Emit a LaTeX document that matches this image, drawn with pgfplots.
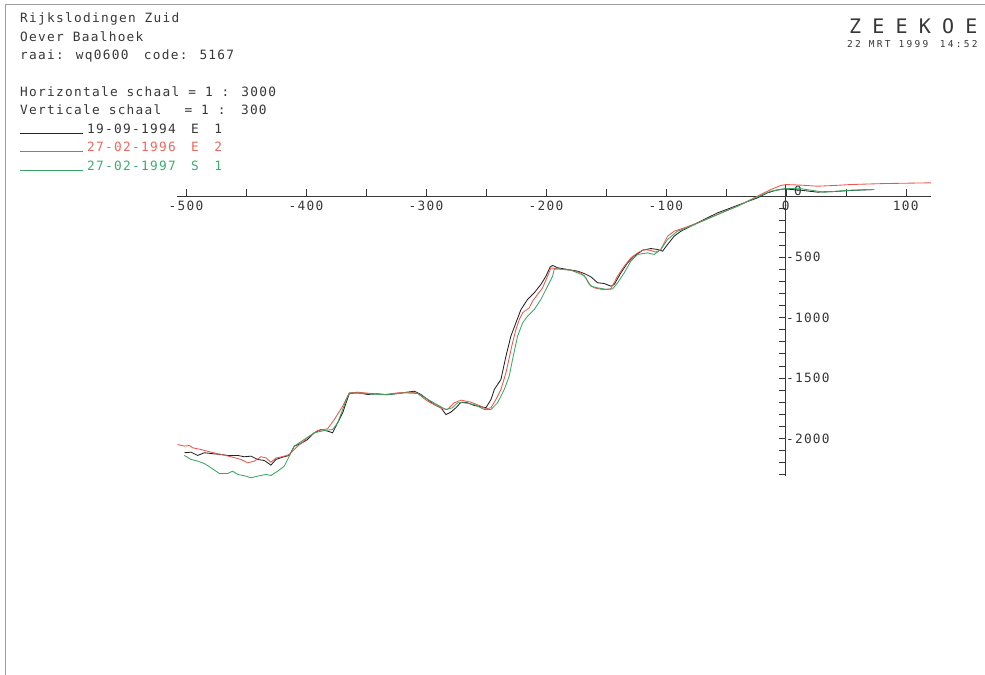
\documentclass[border=0pt]{standalone}
\usepackage{fontspec}
\usepackage{pgfplots}
\pgfplotsset{compat=1.18}
\setmainfont{DejaVu Sans Mono}[LetterSpace=10]
\newfontfamily\bigfont{DejaVu Sans Mono}[LetterSpace=56]
\newfontfamily\smallfont{DejaVu Sans Mono}[LetterSpace=24]
\definecolor{inkgray}{RGB}{55,55,55}
\definecolor{plotblack}{RGB}{35,35,35}
\definecolor{plotred}{RGB}{232,88,74}
\definecolor{plotgreen}{RGB}{58,165,100}
\definecolor{textred}{RGB}{236,104,92}
\definecolor{textgreen}{RGB}{62,172,112}
\newcommand{\gap}{\phantom{0}}
\begin{document}
\begin{tikzpicture}
\fontsize{12.8bp}{14bp}\selectfont
\path[use as bounding box] (0,0) rectangle (985bp,-675bp);
% sheet frame
\draw[gray!75, line width=0.9bp] (5bp,-675bp) -- (5bp,-4bp) -- (985bp,-4bp);

% header block
\begin{scope}[every node/.style={anchor=base west, inner sep=0pt, text=inkgray}]
\node at (20bp,-22.5bp) {Rijkslodingen Zuid};
\node at (20bp,-41bp) {Oever Baalhoek};
\node at (20bp,-59.5bp) {raai: wq0600\gap\gap code: 5167};
\node at (20bp,-96bp) {Horizontale schaal = 1 : 3000};
\node at (20bp,-114.5bp) {Verticale schaal\gap\gap\gap = 1 :\gap\gap 300};
\node at (87bp,-133bp) {19-09-1994\gap\gap E\gap\gap 1};
\node[text=textred] at (87bp,-151.5bp) {27-02-1996\gap\gap E\gap\gap 2};
\node[text=textgreen] at (87bp,-170bp) {27-02-1997\gap\gap S\gap\gap 1};
\end{scope}
\draw[plotblack, line width=0.8bp] (20bp,-133bp) -- (83bp,-133bp);
\draw[plotred, line width=0.8bp] (20bp,-151.5bp) -- (83bp,-151.5bp);
\draw[plotgreen, line width=0.8bp] (20bp,-170bp) -- (83bp,-170bp);

\node[anchor=base west, inner sep=0pt, text=inkgray] at (849bp,-33bp)
  {\fontsize{20bp}{22bp}\bigfont ZEEKOE};
\node[anchor=base west, inner sep=0pt, text=inkgray] at (847bp,-47bp)
  {\fontsize{9.5bp}{11bp}\smallfont 22 MRT 1999\gap\gap 14:52};

\begin{axis}[
  at={(177bp,-476bp)}, anchor=south west,
  scale only axis, width=754bp, height=291bp,
  xmin=-507.5, xmax=121, ymin=-2310, ymax=95,
  axis x line=middle, axis y line=middle,
  axis line style={-, line width=0.7bp, inkgray},
  hide obscured x ticks=false, hide obscured y ticks=false,
  xtick={-500,-400,...,100}, minor xtick={-450,-350,...,50},
  xticklabels={-500,-400,-300,-200,-100,0,100},
  ytick={-2000,-1500,-1000,-500},
  minor ytick={-2300,-2200,...,-100},
  yticklabels={-2000,-1500,-1000,-500},
  extra y ticks={0}, extra y tick labels={0},
  extra y tick style={yticklabel style={yshift=6bp, xshift=8bp}},
  xtick align=inside, ytick align=outside,
  major tick length=7bp, minor tick length=7bp,
  tick style={inkgray, line width=0.6bp},
  xticklabel style={anchor=north, inner sep=0pt, yshift=-4bp, text=inkgray},
  yticklabel style={anchor=west, inner sep=0pt, xshift=7bp, text=inkgray},
  yticklabel pos=right,
  clip=false,
]
% 19-09-1994
\addplot[plotblack, line width=0.85bp] coordinates {
(-501.4,-2118) (-495.8,-2113) (-490.3,-2140) (-484.7,-2118) (-476.4,-2127)
(-470.8,-2132) (-465.3,-2140) (-456.9,-2140) (-451.4,-2151) (-445.8,-2146)
(-440.3,-2173) (-434.7,-2182) (-429.2,-2220) (-425.0,-2173) (-419.4,-2154)
(-413.9,-2140) (-409.7,-2063) (-404.2,-2041) (-398.6,-2008) (-393.1,-1953)
(-387.5,-1926) (-381.9,-1939) (-377.8,-1953) (-373.6,-1870) (-369.4,-1788)
(-363.9,-1628) (-356.9,-1622) (-348.6,-1636) (-340.3,-1631) (-331.9,-1639)
(-323.6,-1628) (-315.3,-1617) (-309.7,-1609) (-304.2,-1636) (-298.6,-1678)
(-293.1,-1719) (-287.5,-1746) (-283.3,-1802) (-279.2,-1782) (-275.0,-1746)
(-270.8,-1700) (-265.3,-1705) (-259.7,-1727) (-254.2,-1738) (-250.0,-1746)
(-245.8,-1678) (-243.0,-1595) (-237.5,-1512) (-233.3,-1320) (-229.2,-1154)
(-225.0,-1044) (-220.8,-934) (-215.3,-851) (-209.7,-796) (-204.2,-727)
(-200.0,-659) (-196.4,-581) (-194.4,-570) (-190.3,-589) (-181.9,-603)
(-173.6,-617) (-168.1,-636) (-162.5,-664) (-156.9,-713) (-151.4,-719)
(-145.8,-741) (-143.1,-727) (-137.5,-631) (-131.9,-548) (-126.4,-493)
(-119.4,-444) (-112.5,-430) (-106.9,-438) (-102.8,-452) (-98.6,-397)
(-93.1,-328) (-87.5,-287) (-79.2,-245) (-68.1,-190) (-56.9,-135)
(-45.8,-94) (-34.7,-52) (-23.6,-11) (-15.3,30) (-8.3,52) (-1.4,63)
(12.5,52) (26.4,36) (40.3,41) (54.2,50) (73.6,58)
};
% 27-02-1996
\addplot[plotred, line width=0.85bp] coordinates {
(-506.9,-2050) (-501.4,-2063) (-497.2,-2058) (-494.4,-2077) (-487.5,-2091)
(-479.2,-2113) (-470.8,-2132) (-462.5,-2151) (-454.2,-2173) (-448.6,-2201)
(-443.1,-2187) (-437.5,-2151) (-433.3,-2160) (-429.2,-2196) (-425.0,-2162)
(-418.1,-2146) (-413.9,-2132) (-406.9,-2063) (-398.6,-1995) (-390.3,-1934)
(-382.0,-1920) (-376.4,-1843) (-369.4,-1733) (-363.9,-1623) (-356.9,-1617)
(-345.8,-1628) (-334.7,-1636) (-323.6,-1623) (-312.5,-1617) (-306.9,-1628)
(-298.6,-1692) (-290.3,-1733) (-286.1,-1755) (-281.9,-1760) (-276.4,-1705)
(-270.8,-1683) (-262.5,-1700) (-254.2,-1733) (-250.0,-1755) (-245.8,-1746)
(-241.7,-1678) (-237.5,-1595) (-233.3,-1457) (-230.6,-1333) (-227.8,-1209)
(-225.0,-1099) (-222.2,-1017) (-219.4,-961) (-213.9,-920) (-211.1,-865)
(-207.0,-810) (-202.8,-755) (-198.6,-658) (-195.8,-590) (-190.3,-598)
(-179.2,-609) (-170.8,-631) (-166.7,-672) (-163.9,-727) (-159.7,-755)
(-152.8,-769) (-145.8,-763) (-140.3,-658) (-134.7,-576) (-129.2,-507)
(-123.6,-466) (-118.1,-438) (-112.5,-446) (-108.3,-460) (-104.2,-438)
(-98.6,-328) (-93.1,-287) (-84.7,-259) (-73.6,-218) (-56.9,-149)
(-40.3,-80) (-23.6,3) (-12.5,58) (-4.2,91) (0,99) (12.5,94) (26.4,85)
(40.3,91) (54.2,99) (81.9,107) (120.8,113)
};
% 27-02-1997
\addplot[plotgreen, line width=0.85bp] coordinates {
(-501.4,-2140) (-495.8,-2173) (-490.3,-2187) (-484.7,-2207) (-479.2,-2242)
(-472.2,-2289) (-465.3,-2289) (-461.1,-2270) (-456.9,-2297) (-450.0,-2311)
(-445.8,-2325) (-440.3,-2311) (-433.3,-2297) (-429.2,-2306) (-423.6,-2270)
(-418.1,-2229) (-413.9,-2146) (-409.7,-2063) (-401.4,-2008) (-393.1,-1953)
(-384.7,-1934) (-377.8,-1926) (-373.6,-1870) (-369.4,-1760) (-365.3,-1650)
(-362.5,-1623) (-351.4,-1628) (-334.7,-1639) (-318.1,-1623) (-306.9,-1628)
(-295.8,-1692) (-287.5,-1738) (-283.3,-1760) (-277.8,-1746) (-273.6,-1705)
(-268.1,-1705) (-259.7,-1719) (-251.4,-1760) (-245.8,-1760) (-240.3,-1705)
(-234.7,-1595) (-230.6,-1485) (-227.8,-1347) (-223.6,-1154) (-219.4,-1044)
(-215.3,-989) (-209.7,-934) (-204.2,-851) (-198.6,-741) (-194.4,-658)
(-193.1,-603) (-190.3,-598) (-179.2,-609) (-168.1,-653) (-162.5,-741)
(-156.9,-755) (-148.6,-769) (-144.4,-763) (-140.3,-714) (-134.7,-631)
(-129.2,-534) (-123.6,-479) (-115.3,-466) (-109.7,-479) (-104.2,-438)
(-98.6,-355) (-90.3,-287) (-79.2,-245) (-56.9,-149) (-40.3,-80)
(-23.6,-3) (-12.5,44) (-1.4,63) (9.7,69) (20.8,52) (31.9,36) (43.1,44)
(54.2,52) (73.6,58)
};
\end{axis}
\end{tikzpicture}
\end{document}
